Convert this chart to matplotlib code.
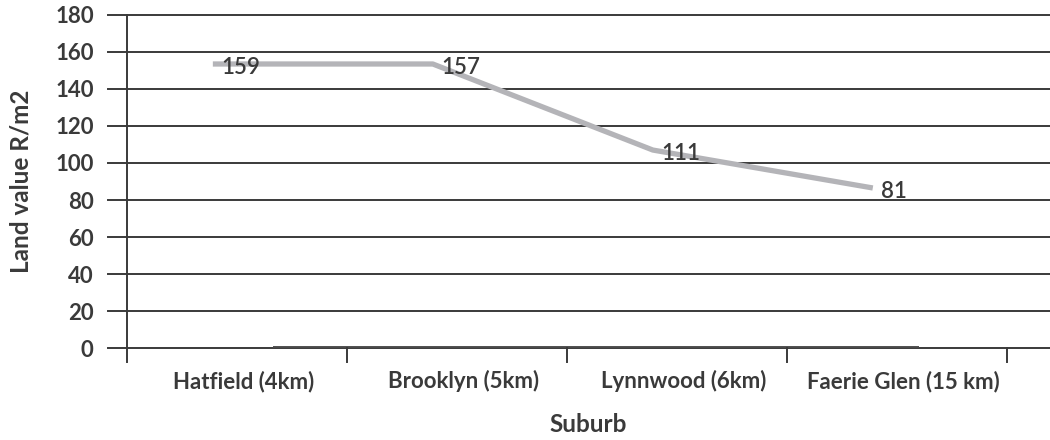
import matplotlib.pyplot as plt
import numpy as np

plt.rcParams['font.family'] = ['Lato', 'DejaVu Sans']

suburbs = ["Hatfield (4km)", "Brooklyn (5km)", "Lynnwood (6km)", "Faerie Glen (15 km)"]
# values as drawn by the grey line
line_values = [153.5, 153.5, 107, 86.5]
# numbers printed next to the points
point_labels = ["159", "157", "111", "81"]
y_ticks = [0, 20, 40, 60, 80, 100, 120, 140, 160, 180]

ink = "#3a3a3a"

fig = plt.figure(figsize=(10.5, 4.4), dpi=100)
ax = fig.add_axes([0.121, 0.209, 0.879, 0.757])

x = np.arange(len(suburbs)) + 0.5
x_line = x - 0.11
ax.plot(x_line, line_values, color="#b4b4b8", lw=3.8, solid_capstyle="butt",
        solid_joinstyle="round", zorder=3)

for xi, yi, lab in zip(x_line, line_values, point_labels):
    ax.annotate(lab, (xi, yi), xytext=(6, -2.5), textcoords="offset points",
                ha="left", va="center", fontsize=16, fontweight="semibold",
                color=ink, zorder=4)

ax.set_xlim(0, (1050 - 127) / 220)
ax.set_ylim(0, 180)

# horizontal gridlines (extend left of the axis like ticks)
for yv in y_ticks:
    ax.plot([-0.088, 5], [yv, yv], color=ink, lw=1.4, clip_on=False, zorder=1)

# darker thick segment along the baseline
ax.plot([0.665, 3.6], [0, 0], color="#4a4a4a", lw=2.8, zorder=2, solid_capstyle="butt")

# vertical axis line and category boundary ticks
ax.plot([0, 0], [-7.5, 180], color=ink, lw=1.4, clip_on=False, zorder=2)
for b in range(1, 5):
    ax.plot([b, b], [0, -7.5], color=ink, lw=1.4, clip_on=False, zorder=2)

for s in ax.spines.values():
    s.set_visible(False)

ax.set_yticks(y_ticks)
ax.set_yticklabels([str(v) for v in y_ticks], fontsize=16, fontweight="bold", color=ink)
ax.tick_params(axis="y", length=0, pad=24)
ax.set_xticks(x + 0.03)
ax.set_xticklabels(suburbs, fontsize=16, fontweight="bold", color=ink)
ax.tick_params(axis="x", length=0, pad=16)

ax.set_xlabel("Suburb", fontsize=17.5, fontweight="bold", color=ink, labelpad=15)
ax.set_ylabel("Land value R/m2", fontsize=17.5, fontweight="bold", color=ink, labelpad=16)

fig.savefig("out.png", dpi=100)
